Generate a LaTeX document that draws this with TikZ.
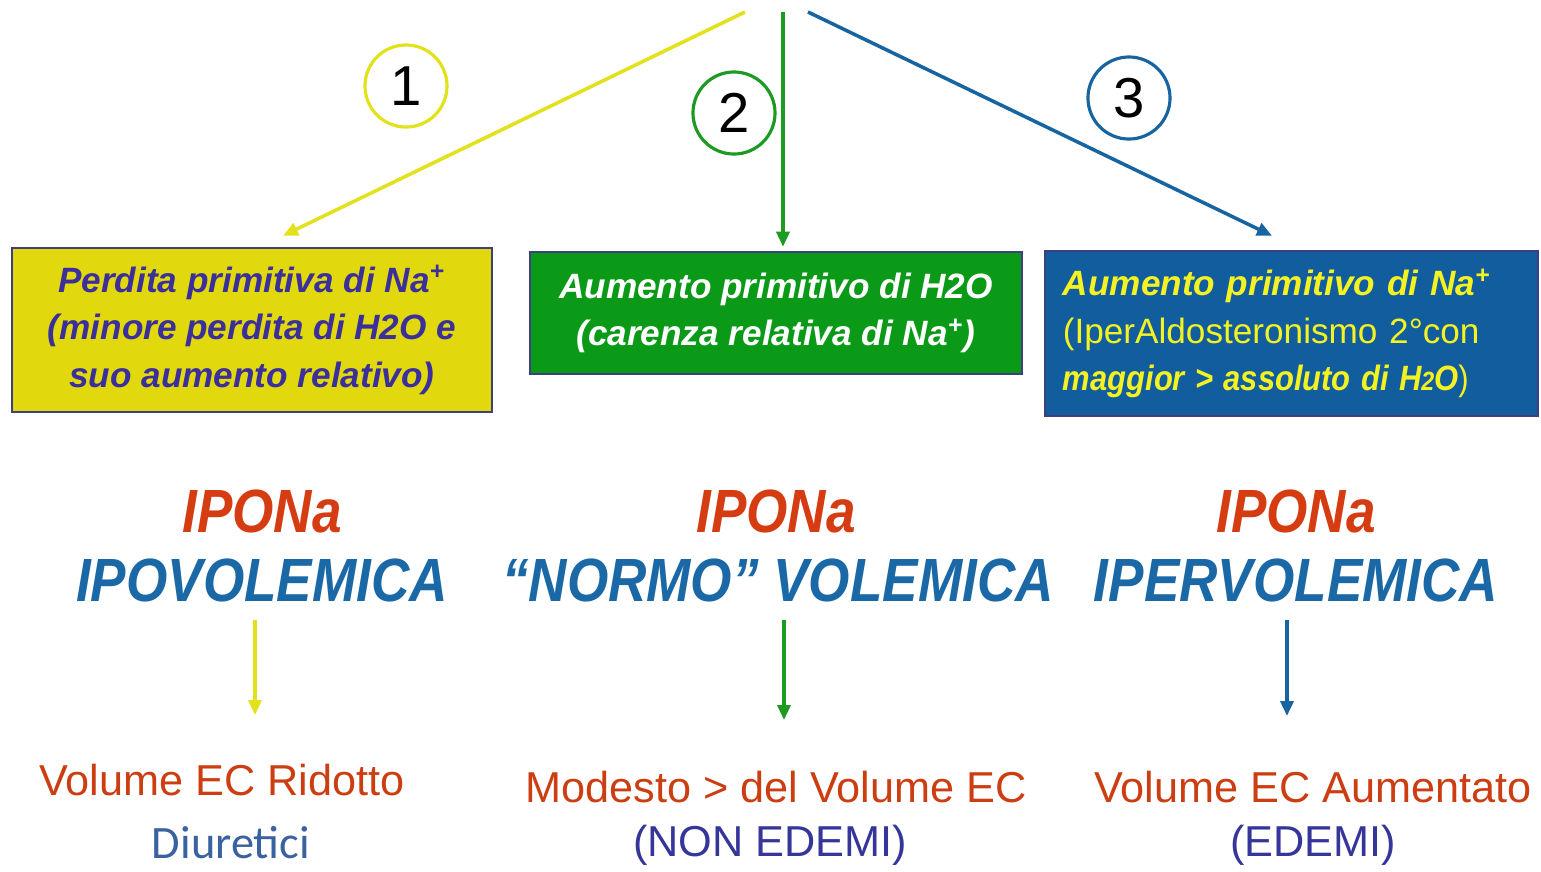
\documentclass[tikz,border=0pt]{standalone}
\usepackage{fontspec}
\usepackage{graphicx}
\setmainfont{Liberation Sans}
\newfontfamily\diurFont{Carlito}
\usetikzlibrary{arrows.meta}
\definecolor{yelFill}{HTML}{E2D80E}
\definecolor{yelLine}{HTML}{E2E21C}
\definecolor{yelText}{HTML}{3B2F9C}
\definecolor{grnFill}{HTML}{0A9A18}
\definecolor{grnLine}{HTML}{1C9A22}
\definecolor{bluFill}{HTML}{115D9D}
\definecolor{bluLine}{HTML}{1864A0}
\definecolor{boxEdge}{HTML}{3D3F7E}
\definecolor{bluText}{HTML}{F4F222}
\definecolor{redHead}{HTML}{D63C12}
\definecolor{bluHead}{HTML}{1A68A6}
\definecolor{redText}{HTML}{CC3E12}
\definecolor{navyText}{HTML}{36359A}
\definecolor{diurText}{HTML}{3A62A0}
\newcommand{\tallText}[1]{\scalebox{1}[1.15]{#1}}
\newcommand{\narrowText}[1]{\scalebox{0.88}[1]{#1}}
\tikzset{
  causeBox/.style={draw=boxEdge, line width=0.7pt, inner sep=0pt,
    font=\fontsize{10}{13.5}\selectfont\bfseries\itshape},
  numCircle/.style={circle, draw, line width=0.9pt, minimum size=0.82cm, inner sep=0pt,
    text=black, font=\fontsize{16}{16}\selectfont},
  headRed/.style={text=redHead, inner sep=0pt, font=\fontsize{15.1}{16}\selectfont\bfseries\itshape},
  headBlue/.style={text=bluHead, inner sep=0pt, font=\fontsize{15.1}{16}\selectfont\bfseries\itshape},
  resText/.style={text=redText, inner sep=0pt, font=\fontsize{12.3}{14}\selectfont},
  noteText/.style={text=navyText, inner sep=0pt, font=\fontsize{12.3}{14}\selectfont},
  branch/.style={line width=1pt, -{Triangle[length=0.15cm, width=0.13cm]}}
}

\begin{document}
\begin{tikzpicture}[x=0.01cm, y=-0.01cm]
  \useasboundingbox[fill=white] (0,0) rectangle (1541,872);

  % where the three branches start
  \coordinate (src1) at (745,12);
  \coordinate (src2) at (783,12);
  \coordinate (src3) at (808,12);

  % the three causes
  \node[causeBox, fill=yelFill, text=yelText, align=center,
    minimum width=4.8cm, minimum height=1.64cm] (boxIpo) at (252,330)
    {Perdita primitiva di Na\textsuperscript{+}\\(minore perdita di H2O e\\suo aumento relativo)};
  \node[causeBox, fill=grnFill, text=white, align=center,
    minimum width=4.92cm, minimum height=1.22cm] (boxNormo) at (776,313)
    {Aumento primitivo di H2O\\(carenza relativa di Na\textsuperscript{+})};
  \node[causeBox, fill=bluFill, text=bluText, align=left, text width=4.57cm,
    inner xsep=0.18cm, minimum height=1.65cm] (boxIper) at (1291.5,333.5)
    {Aumento primitivo di Na\textsuperscript{+}\\
     {\mdseries\upshape (IperAldosteronismo 2°con}\\
     \narrowText{maggior > assoluto di H{\fontsize{7.5}{8}\selectfont 2}O{\mdseries\upshape )}}};

  \draw[branch, yelLine] (src1) -- ([xshift=0.31cm, yshift=0.11cm]boxIpo.north);
  \draw[branch, grnLine] (src2) -- ([xshift=0.07cm, yshift=0.04cm]boxNormo.north);
  \draw[branch, bluLine] (src3) -- ([xshift=-0.195cm, yshift=0.14cm]boxIper.north);

  \node[numCircle, draw=yelLine] (num1) at (406,86) {1};
  \node[numCircle, draw=grnLine] (num2) at (734,113) {2};
  \node[numCircle, draw=bluLine] (num3) at (1129,98) {3};

  % the three kinds of hyponatremia
  \node[headRed] (ipoTop) at (262,511) {\tallText{IPONa}};
  \node[headBlue] (ipoSub) at (262,580) {\tallText{IPOVOLEMICA}};
  \node[headRed] (normoTop) at (776,511) {\tallText{IPONa}};
  \node[headBlue] (normoSub) at (778,580) {\tallText{“NORMO” VOLEMICA}};
  \node[headRed] (iperTop) at (1296,511) {\tallText{IPONa}};
  \node[headBlue] (iperSub) at (1296,580) {\tallText{IPERVOLEMICA}};

  \coordinate (dn1) at (255,620);
  \coordinate (dn2) at (784,620);
  \coordinate (dn3) at (1287,620);
  \draw[branch, yelLine] (dn1) -- ++(0,95);
  \draw[branch, grnLine] (dn2) -- ++(0,100);
  \draw[branch, bluLine] (dn3) -- ++(0,96);

  % consequences
  \node[resText] (volIpo) at (222,780) {Volume EC Ridotto};
  \node[text=diurText, inner sep=0pt, font=\diurFont\fontsize{13.2}{15}\selectfont] (diur) at (231,843) {Diuretici};
  \node[resText] (volNormo) at (776,787) {Modesto > del Volume EC};
  \node[noteText] (edNormo) at (770,845) {(NON EDEMI)};
  \node[resText] (volIper) at (1313,787) {Volume EC Aumentato};
  \node[noteText] (edIper) at (1313,845) {(EDEMI)};
\end{tikzpicture}
\end{document}
